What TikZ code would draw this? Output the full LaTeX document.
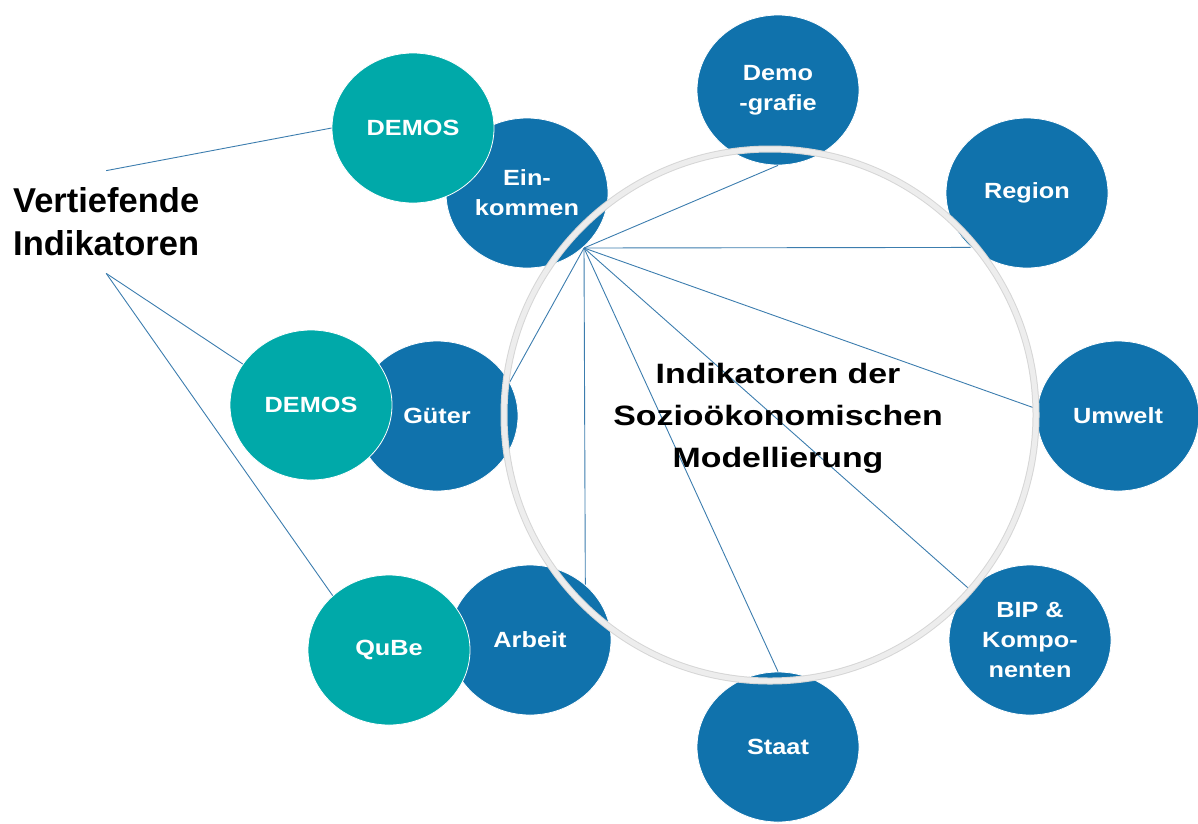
\documentclass[tikz,border=0pt]{standalone}
\usepackage{fontspec}
\setmainfont{Liberation Sans}
\newfontfamily\widefont{Liberation Sans}[FakeStretch=1.15]
\newfontfamily\titlefont{Liberation Sans}[FakeStretch=1.21]
\usetikzlibrary{shapes.geometric}
\definecolor{topicblue}{HTML}{1072AC}
\definecolor{toolteal}{HTML}{00A9A9}
\definecolor{linkblue}{HTML}{3C7DAE}
\definecolor{ringgray}{HTML}{EDEDED}
\definecolor{ringedge}{HTML}{D6D6D6}
\tikzset{topic/.style = {ellipse, fill=topicblue, draw=white, line width=0.8pt, minimum width=162pt, minimum height=150pt, inner sep=0, text=white, align=center, font=\widefont\bfseries\fontsize{22}{30}\selectfont}}
\tikzset{tool/.style = {topic, fill=toolteal}}
\tikzset{link/.style = {draw=linkblue, line width=0.9pt}}

\begin{document}
\begin{tikzpicture}[x=1pt, y=-1pt]
      \useasboundingbox (0,0) rectangle (1198,823);
      \node [topic] (demografie) at (778,90) {Demo\\-grafie};
      \node [topic] (region) at (1027,193) {Region};
      \node [topic] (umwelt) at (1118,416) {Umwelt};
      \node [topic] (bip) at (1030,640) {BIP \&\\Kompo-\\nenten};
      \node [topic] (staat) at (778,747) {Staat};
      \node [topic] (arbeit) at (530,640) {Arbeit};
      \node [topic] (gueter) at (437,416) {Güter};
      \node [topic] (einkommen) at (527,193) {Ein-\\kommen};
      \node [tool] (demosA) at (413,128) {DEMOS};
      \node [tool] (demosB) at (311,405) {DEMOS};
      \node [tool] (qube) at (389,650) {QuBe};
      \coordinate (hub) at (584,248);
      \foreach \t in {demografie.south, region.224, umwelt.175, bip.140, staat.north, arbeit.45, gueter.25}
        \draw [link] (hub) -- (\t);
      \node [anchor=west, align=left, inner xsep=0, inner ysep=17pt, font=\bfseries\fontsize{34.5}{43}\selectfont] (vertiefend) at (13,222) {Vertiefende\\Indikatoren};
      \draw [link] (vertiefend.north) -- (demosA.west);
      \draw [link] (vertiefend.south) -- (demosB.149);
      \draw [link] (vertiefend.south) -- (qube.136);
      \draw [ringedge, line width=7pt] (770,415) circle [radius=266pt];
      \draw [ringgray, line width=5pt] (770,415) circle [radius=266pt];
      \node [align=center, font=\titlefont\bfseries\fontsize{28}{42}\selectfont] (modell) at (778,418) {Indikatoren der\\Sozioökonomischen\\Modellierung};
    \end{tikzpicture}
\end{document}
